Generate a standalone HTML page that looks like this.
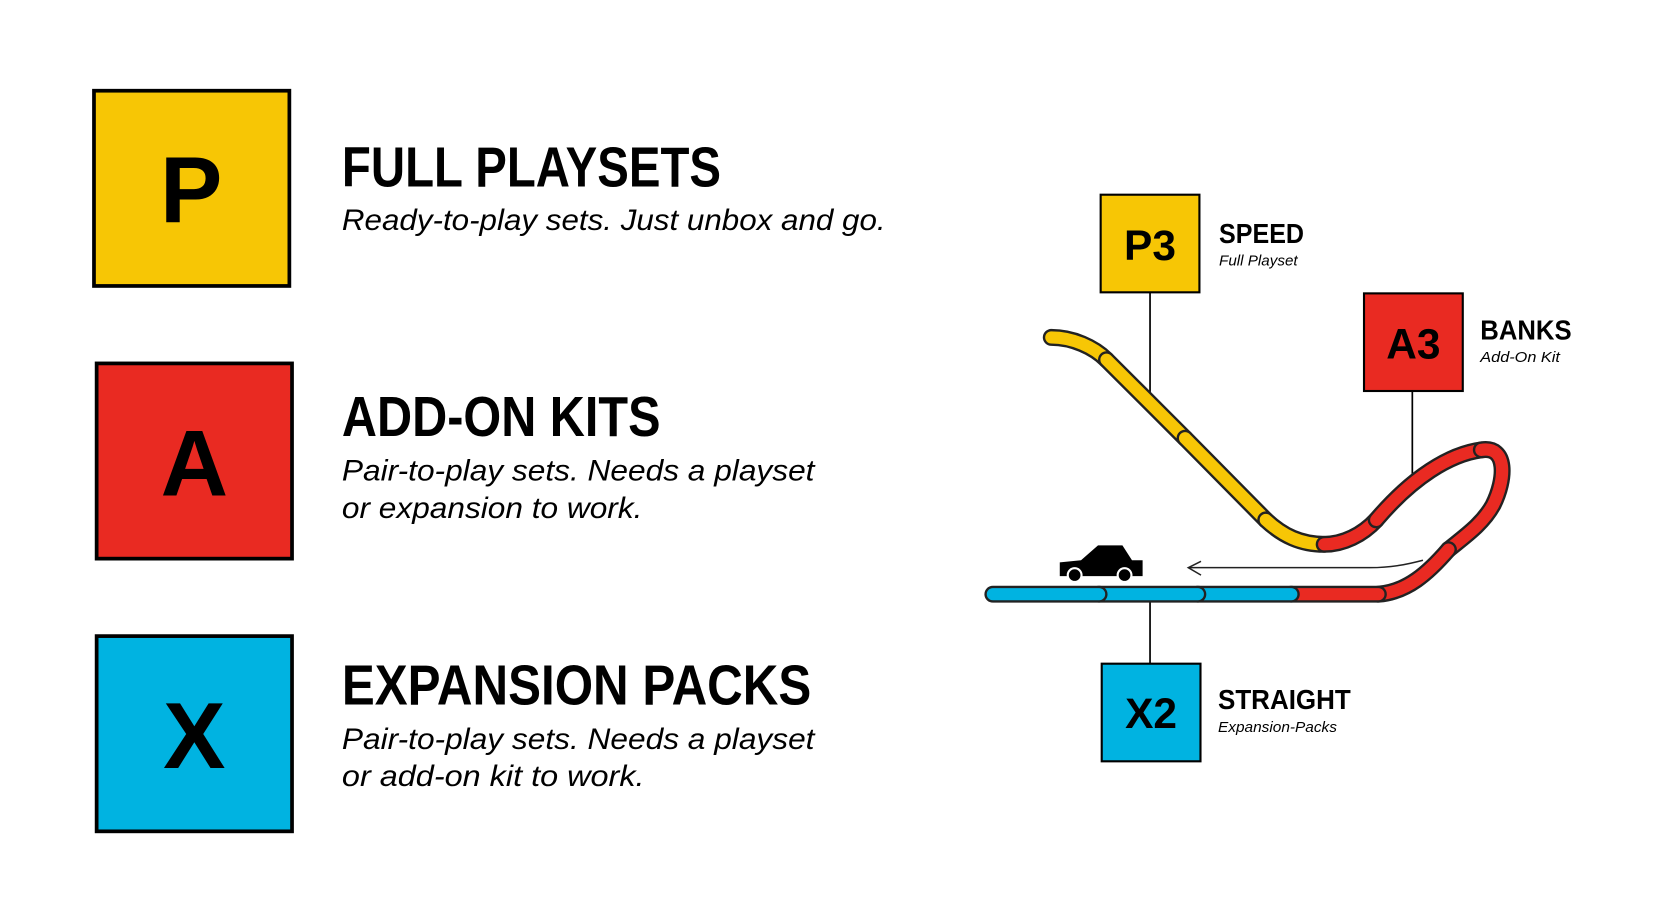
<!DOCTYPE html>
<html><head><meta charset="utf-8"><style>
html,body{margin:0;padding:0;background:#fff;width:1664px;height:921px;overflow:hidden}
svg{display:block}
.h{font-family:"Liberation Sans",sans-serif;font-weight:bold;fill:#000}
.s{font-family:"Liberation Sans",sans-serif;font-style:italic;fill:#000}
</style></head><body>
<svg width="1664" height="921" viewBox="0 0 1567 868" preserveAspectRatio="none" xmlns="http://www.w3.org/2000/svg">
<rect width="1567" height="868" fill="#fff"/>
<rect x="88.5" y="85.5" width="184" height="184" fill="#F7C605" stroke="#000" stroke-width="3.5"/>
<text x="180" y="209" text-anchor="middle" class="h" font-size="88">P</text>
<rect x="91" y="342.5" width="184" height="184" fill="#E92A22" stroke="#000" stroke-width="3.5"/>
<text x="183" y="467" text-anchor="middle" class="h" font-size="88">A</text>
<rect x="91" y="599.5" width="184" height="184" fill="#00B3E1" stroke="#000" stroke-width="3.5"/>
<text x="183" y="724" text-anchor="middle" class="h" font-size="88">X</text>

<text x="322" y="176" class="h" font-size="53" textLength="357" lengthAdjust="spacingAndGlyphs">FULL PLAYSETS</text>
<text x="322" y="217" class="s" font-size="28" textLength="512" lengthAdjust="spacingAndGlyphs">Ready-to-play sets. Just unbox and go.</text>

<text x="322" y="411" class="h" font-size="53" textLength="300" lengthAdjust="spacingAndGlyphs">ADD-ON KITS</text>
<text x="322" y="453" class="s" font-size="28" textLength="445" lengthAdjust="spacingAndGlyphs">Pair-to-play sets. Needs a playset</text>
<text x="322" y="488" class="s" font-size="28" textLength="283" lengthAdjust="spacingAndGlyphs">or expansion to work.</text>

<text x="322" y="664" class="h" font-size="53" textLength="442" lengthAdjust="spacingAndGlyphs">EXPANSION PACKS</text>
<text x="322" y="706" class="s" font-size="28" textLength="445" lengthAdjust="spacingAndGlyphs">Pair-to-play sets. Needs a playset</text>
<text x="322" y="741" class="s" font-size="28" textLength="285" lengthAdjust="spacingAndGlyphs">or add-on kit to work.</text>

<line x1="1083" y1="276" x2="1083" y2="372" stroke="#000" stroke-width="1.6"/>
<line x1="1330" y1="369" x2="1330" y2="452" stroke="#000" stroke-width="1.6"/>
<line x1="1083" y1="565" x2="1083" y2="625" stroke="#000" stroke-width="1.6"/>

<path d="M1340,528 C1325,532 1310,535 1290,535 L1120,535" fill="none" stroke="#222" stroke-width="1.4"/>
<path d="M1131,529 L1119,535 L1131,542" fill="none" stroke="#222" stroke-width="1.4"/>

<g fill="none" stroke-linecap="round">
<path d="M990,318 C1010,318 1030,327 1042,339" stroke="#222" stroke-width="16"/><path d="M990,318 C1010,318 1030,327 1042,339" stroke="#F7C605" stroke-width="11.5"/>
<path d="M1042,339 L1116,413" stroke="#222" stroke-width="16"/><path d="M1042,339 L1116,413" stroke="#F7C605" stroke-width="11.5"/>
<path d="M1116,413 L1192,490" stroke="#222" stroke-width="16"/><path d="M1116,413 L1192,490" stroke="#F7C605" stroke-width="11.5"/>
<path d="M1192,490 C1208,505 1225,513 1247,513" stroke="#222" stroke-width="16"/><path d="M1192,490 C1208,505 1225,513 1247,513" stroke="#F7C605" stroke-width="11.5"/>
<path d="M1247,513 C1265,513 1283,504 1296,490" stroke="#222" stroke-width="16"/><path d="M1247,513 C1265,513 1283,504 1296,490" stroke="#E92A22" stroke-width="11.5"/>
<path d="M1296,490 C1330,450 1365,428 1395,424" stroke="#222" stroke-width="16"/><path d="M1296,490 C1330,450 1365,428 1395,424" stroke="#E92A22" stroke-width="11.5"/>
<path d="M1395,424 C1420,420 1418,452 1406,476 C1396,494 1380,505 1364,518" stroke="#222" stroke-width="16"/><path d="M1395,424 C1420,420 1418,452 1406,476 C1396,494 1380,505 1364,518" stroke="#E92A22" stroke-width="11.5"/>
<path d="M1364,518 C1345,540 1325,558 1298,560" stroke="#222" stroke-width="16"/><path d="M1364,518 C1345,540 1325,558 1298,560" stroke="#E92A22" stroke-width="11.5"/>
<path d="M1298,560 L1216,560" stroke="#222" stroke-width="16"/><path d="M1298,560 L1216,560" stroke="#E92A22" stroke-width="11.5"/>
<path d="M1216,560 L1128,560" stroke="#222" stroke-width="16"/><path d="M1216,560 L1128,560" stroke="#00B3E1" stroke-width="11.5"/>
<path d="M1128,560 L1035,560" stroke="#222" stroke-width="16"/><path d="M1128,560 L1035,560" stroke="#00B3E1" stroke-width="11.5"/>
<path d="M1035,560 L935,560" stroke="#222" stroke-width="16"/><path d="M1035,560 L935,560" stroke="#00B3E1" stroke-width="11.5"/>
</g>
<path d="M998,530 L1018,528 L1034,514 L1057,514 L1066,528 L1076,528 L1076,543 L998,543 Z" fill="#000"/>
<circle cx="1012" cy="542" r="6.5" fill="#000" stroke="#fff" stroke-width="2"/>
<circle cx="1059" cy="542" r="6.5" fill="#000" stroke="#fff" stroke-width="2"/>

<rect x="1036.5" y="183.5" width="93" height="92" fill="#F7C605" stroke="#000" stroke-width="2"/>
<text x="1083" y="245" text-anchor="middle" class="h" font-size="40">P3</text>
<text x="1148" y="229" class="h" font-size="26" textLength="80" lengthAdjust="spacingAndGlyphs">SPEED</text>
<text x="1148" y="250" class="s" font-size="14" textLength="74" lengthAdjust="spacingAndGlyphs">Full Playset</text>

<rect x="1284.5" y="276.5" width="93" height="92" fill="#E92A22" stroke="#000" stroke-width="2"/>
<text x="1331" y="338" text-anchor="middle" class="h" font-size="40">A3</text>
<text x="1394" y="320" class="h" font-size="26" textLength="86" lengthAdjust="spacingAndGlyphs">BANKS</text>
<text x="1394" y="341" class="s" font-size="14" textLength="75" lengthAdjust="spacingAndGlyphs">Add-On Kit</text>

<rect x="1037.5" y="625.5" width="93" height="92" fill="#00B3E1" stroke="#000" stroke-width="2"/>
<text x="1084" y="686" text-anchor="middle" class="h" font-size="40">X2</text>
<text x="1147" y="668" class="h" font-size="26" textLength="125" lengthAdjust="spacingAndGlyphs">STRAIGHT</text>
<text x="1147" y="690" class="s" font-size="14" textLength="112" lengthAdjust="spacingAndGlyphs">Expansion-Packs</text>
</svg>
</body></html>
